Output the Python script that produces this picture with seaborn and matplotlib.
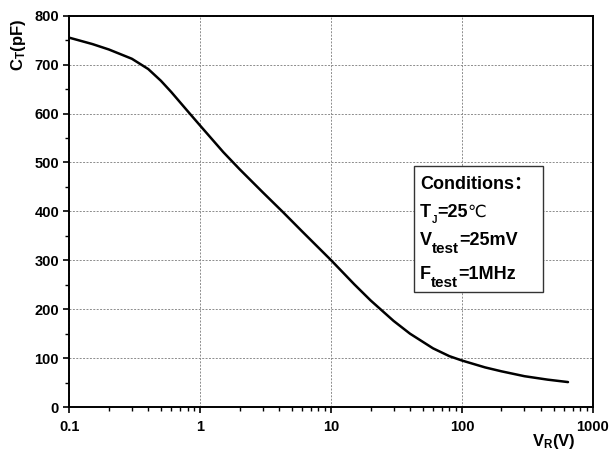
import numpy as np
import pandas as pd
import matplotlib
matplotlib.use("Agg")
import matplotlib.pyplot as plt
import seaborn as sns
from matplotlib.patches import Rectangle
from matplotlib.ticker import MultipleLocator, LogLocator, NullFormatter, FixedLocator

# === Data ===
vr = [0.1, 0.15, 0.2, 0.3, 0.4, 0.5, 0.6, 0.8, 1, 1.5, 2, 3, 4.3, 6, 10,
      15, 20, 30, 40, 60, 80, 100, 150, 200, 300, 450, 645]
ct = [755, 742, 731, 712, 691, 667, 644, 605, 575, 521, 486, 439, 398, 359, 300,
      251, 218, 176, 150, 120, 104, 95, 81, 73, 63, 56, 51]

x_ticks = [0.1, 1, 10, 100, 1000]
x_tick_labels = ["0.1", "1", "10", "100", "1000"]
y_ticks = [0, 100, 200, 300, 400, 500, 600, 700, 800]

cond_title = "Conditions："
cond_main = ["T", "V", "F"]
cond_sub = ["J", "test", "test"]
cond_rest = ["=25", "=25mV", "=1MHz"]
cond_extra = ["℃", "", ""]

df = pd.DataFrame({"VR": vr, "CT": ct})

# === Style ===
sns.set_theme(style="ticks")
plt.rcParams["font.family"] = ["Liberation Sans", "Noto Sans CJK SC", "DejaVu Sans"]
plt.rcParams["font.weight"] = "bold"
plt.rcParams["mathtext.fontset"] = "custom"
plt.rcParams["mathtext.rm"] = "Liberation Sans"
plt.rcParams["mathtext.bf"] = "Liberation Sans:bold"
plt.rcParams["mathtext.it"] = "Liberation Sans:italic"
for key in ["text.color", "axes.labelcolor", "xtick.color", "ytick.color", "axes.edgecolor"]:
    plt.rcParams[key] = "black"

fig = plt.figure(figsize=(6.09, 4.53), dpi=100)
ax = fig.add_axes([0.114, 0.1015, 0.8596, 0.8638])

sns.lineplot(data=df, x="VR", y="CT", color="black", linewidth=1.8,
             estimator=None, sort=False, ax=ax, zorder=2)

ax.set_xscale("log")
ax.set_xlim(0.1, 1000)
ax.set_ylim(0, 800)
ax.xaxis.set_major_locator(FixedLocator(x_ticks))
ax.set_xticklabels(x_tick_labels)
ax.xaxis.set_minor_locator(LogLocator(base=10, subs=np.arange(2, 10)))
ax.xaxis.set_minor_formatter(NullFormatter())
ax.set_yticks(y_ticks)
ax.yaxis.set_minor_locator(MultipleLocator(50))
ax.set_xlabel("")
ax.set_ylabel("")

ax.grid(True, which="major", linestyle=(0, (2, 1.5)), color="#8c8c8c", linewidth=0.7)
ax.grid(False, which="minor")

for s in ax.spines.values():
    s.set_linewidth(1.4)
    s.set_color("black")
    s.set_visible(True)

ax.tick_params(which="both", direction="out", top=False, right=False, color="black")
ax.tick_params(which="major", length=4.5, width=1.2, labelsize=10.5, pad=3)
ax.tick_params(axis="x", which="major", pad=5)
ax.tick_params(which="minor", length=3, width=1.0)
for lab in ax.get_xticklabels() + ax.get_yticklabels():
    lab.set_fontweight("bold")
    lab.set_color("black")

# axis labels
fig.text(19 / 609, 1 - 45 / 453, r"$\mathbf{C_T}$(pF)", rotation=90, ha="center",
         va="center", fontsize=12, fontweight="bold")
fig.text(532 / 609, 1 - 446 / 453, r"$\mathbf{V_R}$(V)", ha="left",
         va="baseline", fontsize=12, fontweight="bold")

# conditions box
ax.add_patch(Rectangle((0.658, 0.295), 0.904 - 0.658, 0.617 - 0.295,
                       transform=ax.transAxes, facecolor="white",
                       edgecolor="#333333", linewidth=1.0, zorder=3))

TX = 0.6695
ax.text(TX, 0.557, cond_title, transform=ax.transAxes, fontsize=13,
        fontweight="bold", va="baseline", zorder=4)

line_y = [0.4856, 0.414, 0.327]
sub_size = [7, 11, 11]
sub_dy = [-3, -5, -5]
for i in range(3):
    t0 = ax.text(TX, line_y[i], cond_main[i], transform=ax.transAxes, fontsize=13,
                 fontweight="bold", va="baseline", zorder=4)
    t1 = ax.annotate(cond_sub[i], xy=(1, 0), xycoords=t0, xytext=(0.3, sub_dy[i]),
                     textcoords="offset points", fontsize=sub_size[i],
                     fontweight="bold", va="bottom", ha="left", zorder=4)
    t2 = ax.annotate(cond_rest[i], xy=(1, 0), xycoords=(t1, t0), xytext=(0, 0),
                     textcoords="offset points", fontsize=13,
                     fontweight="bold", va="bottom", ha="left", zorder=4)
    if cond_extra[i]:
        ax.annotate(cond_extra[i], xy=(1, 0), xycoords=(t2, t0), xytext=(0, 0),
                    textcoords="offset points", fontsize=12, family="DejaVu Sans",
                    fontweight="normal", va="bottom", ha="left", zorder=4)

fig.savefig("out.png", dpi=100)
